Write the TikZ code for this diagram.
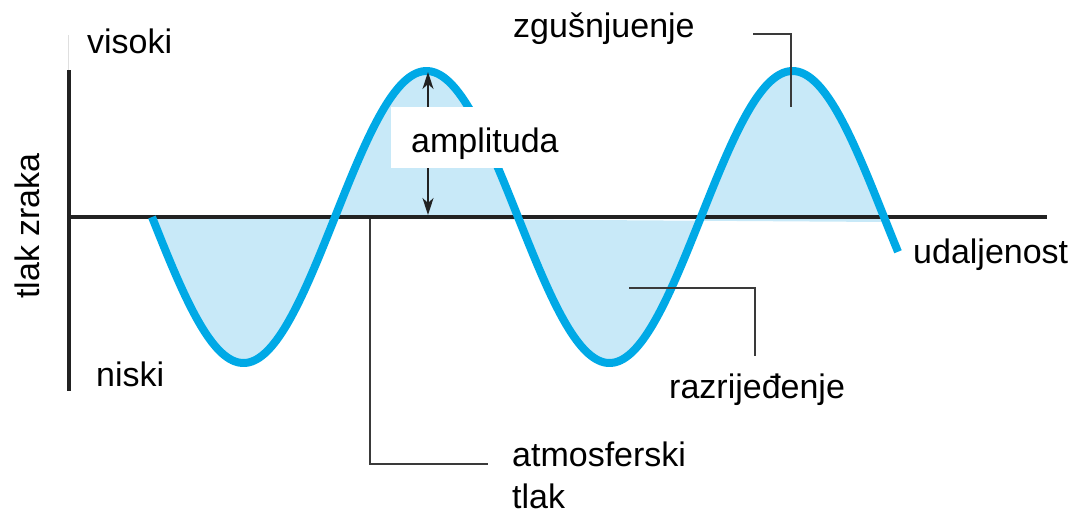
\documentclass[tikz,border=0pt]{standalone}
\usepackage{fontspec}
\setmainfont{Liberation Sans}
\usetikzlibrary{arrows.meta}
\definecolor{wave}{HTML}{00A9E6}
\definecolor{wavefill}{HTML}{C8E9F8}
\definecolor{axiscol}{HTML}{222222}
\definecolor{leadcol}{HTML}{3A3A3A}
\tikzset{
  lbl/.style={font=\fontsize{34}{40}\selectfont, inner sep=0pt, text=black},
  leader/.style={draw=leadcol, line width=1.8pt},
  axisline/.style={draw=axiscol, line width=4.5pt},
}
\begin{document}
\begin{tikzpicture}[x=1pt,y=-1pt]
\useasboundingbox (0,0) rectangle (1074,515);
% fill
\fill[wavefill] plot[domain=152:886,samples=200] (\x,{217+146*sin(0.983607*(\x-152))}) -- cycle;
% axes
\draw[gray!25, line width=1pt] (68,35) -- (68,70);
\coordinate (ytop) at (69,70);
\coordinate (ybot) at (69,391);
\coordinate (xl) at (69,217);
\coordinate (xr) at (1047,217);
\draw[axisline] (ytop) -- (ybot);
\draw[axisline] (xl) -- (xr);
% wave
\draw[wave, line width=8pt] plot[domain=152:898,samples=300] (\x,{217+146*sin(0.983607*(\x-152))});
% amplitude arrow
\coordinate (abot) at (428,215);
\coordinate (atop) at (428,72);
\draw[axiscol, line width=1.8pt, {Stealth[length=17pt,width=11pt,inset=5pt]}-{Stealth[length=17pt,width=11pt,inset=5pt]}] (abot) -- (atop);
\node[fill=white, minimum width=186pt, minimum height=61pt, inner sep=0pt] (abox) at (484,137) {};
\node[lbl, anchor=base west] (amp) at (411,152) {amplituda};
% labels
\node[lbl, anchor=base west] (vis) at (87,53) {visoki};
\node[lbl, anchor=base west] (nis) at (96,386) {niski};
\node[lbl, anchor=base, rotate=90] (tlak) at (39,226) {tlak zraka};
\node[lbl, anchor=base west] (udal) at (913,263) {udaljenost};
\node[lbl, anchor=base west] (zg) at (513,37) {zgušnjuenje};
\node[lbl, anchor=base west] (raz) at (669,398) {razrijeđenje};
\node[lbl, anchor=base west, align=left] (atm) at (512,466) {atmosferski};
\node[lbl, anchor=base west] (atm2) at (512,508) {tlak};
% leaders
\coordinate (zg1) at (753,34);
\coordinate (zg2) at (791,34);
\coordinate (zg3) at (791,107);
\draw[leader] (zg1) -- (zg2) -- (zg3);
\coordinate (rz1) at (629,288);
\coordinate (rz2) at (755,288);
\coordinate (rz3) at (755,356);
\draw[leader] (rz1) -- (rz2) -- (rz3);
\coordinate (at1) at (370,219);
\coordinate (at2) at (370,464);
\coordinate (at3) at (488,464);
\draw[leader] (at1) -- (at2) -- (at3);
\end{tikzpicture}
\end{document}
